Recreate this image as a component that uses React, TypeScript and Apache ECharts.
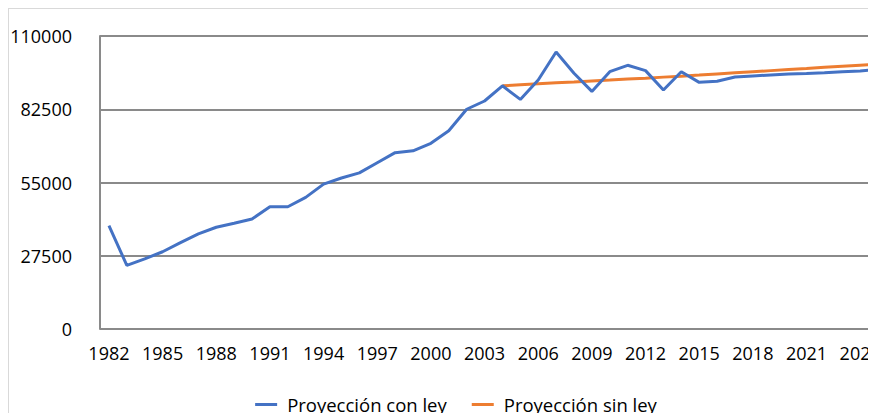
import React, { useEffect, useRef } from "react";
import * as echarts from "echarts";

const years: string[] = [
  "1982", "1983", "1984", "1985", "1986", "1987", "1988", "1989", "1990", "1991",
  "1992", "1993", "1994", "1995", "1996", "1997", "1998", "1999", "2000", "2001",
  "2002", "2003", "2004", "2005", "2006", "2007", "2008", "2009", "2010", "2011",
  "2012", "2013", "2014", "2015", "2016", "2017", "2018", "2019", "2020", "2021",
  "2022", "2023", "2024", "2025",
];

const conLey: number[] = [
  38800, 23900, 26300, 29000, 32400, 35700, 38200, 39700, 41300, 45900,
  45900, 49400, 54400, 56700, 58600, 62400, 66200, 66900, 69700, 74400,
  82500, 85600, 91300, 86200, 93500, 104000, 96000, 89200, 96600, 99000,
  97000, 89700, 96600, 92600, 93000, 94600, 95000, 95400, 95700, 95900,
  96200, 96600, 96900, 97400,
];

const sinLey: (number | null)[] = [
  null, null, null, null, null, null, null, null, null, null,
  null, null, null, null, null, null, null, null, null, null,
  null, null, 91300, 91680, 92050, 92420, 92760, 93130, 93470, 93840,
  94180, 94560, 94930, 95340, 95760, 96170, 96580, 97000, 97410, 97820,
  98240, 98650, 99060, 99470,
];

const yTicks = { min: 0, max: 110000, interval: 27500 };

export default function App() {
  const ref = useRef<HTMLDivElement>(null);
  useEffect(() => {
    if (!ref.current) return;
    const chart = echarts.init(ref.current, null, { renderer: "svg" });
    const font = "'Open Sans', 'Liberation Sans', sans-serif";
    chart.setOption({
      animation: false,
      textStyle: { fontFamily: font },
      grid: {
        left: 91,
        top: 27,
        height: 293,
        right: 16,
        containLabel: false,
        outerBoundsMode: "none",
      },
      legend: {
        top: 381,
        left: "center",
        itemWidth: 22,
        itemHeight: 3,
        itemGap: 25,
        icon: "rect",
        textStyle: {
          fontFamily: font,
          fontSize: 18.5,
          color: "#000",
          padding: [0, 0, 0, 5],
        },
        data: ["Proyección con ley", "Proyección sin ley"],
      },
      xAxis: {
        type: "category",
        data: years,
        boundaryGap: true,
        axisLine: { show: false },
        axisTick: { show: false },
        axisLabel: {
          interval: 2,
          fontSize: 18,
          color: "#000",
          margin: 15,
          fontFamily: font,
        },
        splitLine: { show: false },
      },
      yAxis: {
        type: "value",
        min: yTicks.min,
        max: yTicks.max,
        interval: yTicks.interval,
        axisLine: { show: true, lineStyle: { color: "#8a8a8a", width: 2 } },
        axisTick: { show: false },
        axisLabel: {
          fontSize: 18,
          color: "#000",
          margin: 28,
          fontFamily: font,
          formatter: (v: number) => String(v),
        },
        splitLine: { show: true, lineStyle: { color: "#8a8a8a", width: 2 } },
      },
      series: [
        {
          name: "Proyección con ley",
          type: "line",
          data: conLey,
          showSymbol: false,
          symbol: "none",
          z: 3,
          lineStyle: { color: "#4472C4", width: 3 },
          itemStyle: { color: "#4472C4" },
        },
        {
          name: "Proyección sin ley",
          type: "line",
          data: sinLey,
          showSymbol: false,
          symbol: "none",
          z: 2,
          lineStyle: { color: "#ED7D31", width: 3 },
          itemStyle: { color: "#ED7D31" },
        },
      ],
    });
    return () => chart.dispose();
  }, []);
  return (
    <div style={{ width: 868, height: 405, overflow: "hidden", position: "relative" }}>
      <div
        style={{
          position: "absolute",
          left: 0,
          top: 0,
          width: 894,
          height: 420,
          border: "1px solid #d9d9d9",
          background: "#fff",
        }}
      >
        <div ref={ref} style={{ width: 894, height: 420 }} />
      </div>
    </div>
  );
}
